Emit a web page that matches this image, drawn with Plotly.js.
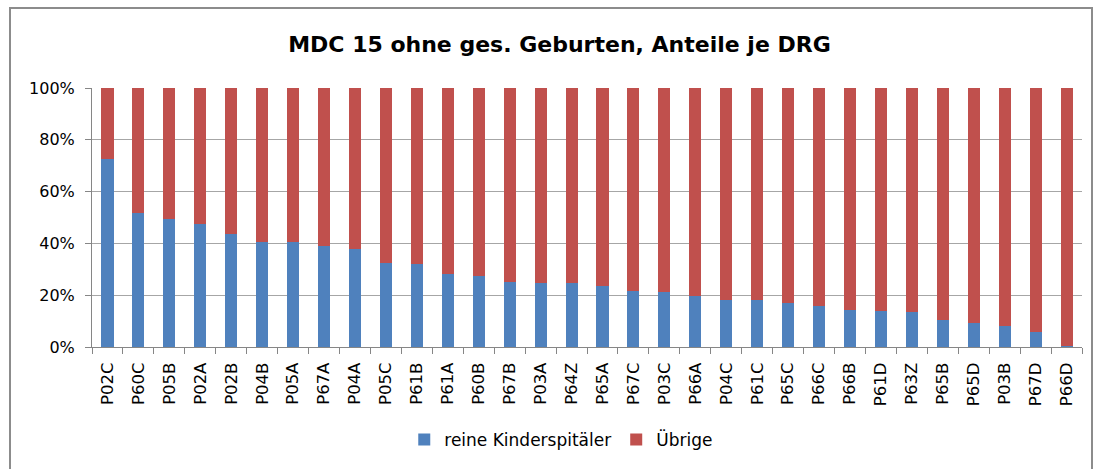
<!DOCTYPE html>
<html>
<head>
<meta charset="utf-8">
<script src="https://cdn.plot.ly/plotly-3.0.1.min.js"></script>
<style>
  html, body { margin: 0; padding: 0; background: #fff; }
  #wrap { position: relative; width: 1097px; height: 469px; overflow: hidden; }
  #chart { position: absolute; left: 0; top: 0; width: 1097px; height: 469px; }
  #frame { position: absolute; left: 9px; top: 7px; width: 1080px; height: 480px; border: 2px solid #8c8c8c; pointer-events: none; }
</style>
</head>
<body>
<div id="wrap">
  <div id="chart"></div>
  <div id="frame"></div>
</div>
<script>
const categories = ["P02C","P60C","P05B","P02A","P02B","P04B","P05A","P67A","P04A","P05C","P61B","P61A","P60B","P67B","P03A","P64Z","P65A","P67C","P03C","P66A","P04C","P61C","P65C","P66C","P66B","P61D","P63Z","P65B","P65D","P03B","P67D","P66D"];
const kinderspitaeler = [72.6,51.8,49.5,47.3,43.5,40.6,40.6,39.0,37.8,32.3,31.9,28.2,27.4,25.1,24.7,24.7,23.5,21.5,21.2,19.7,18.0,18.0,17.0,15.8,14.2,14.0,13.5,10.3,9.1,8.0,5.8,0.3];
const uebrige = kinderspitaeler.map(v => +(100 - v).toFixed(1));
const seriesNames = ["reine Kinderspitäler", "Übrige"];
const yTickVals = [0,20,40,60,80,100];
const yTickText = ["0%","20%","40%","60%","80%","100%"];

const font = "'DejaVu Sans', sans-serif";

const traces = [
  { type: "bar", name: seriesNames[0], x: categories, y: kinderspitaeler, marker: { color: "#4F81BD" }, hoverinfo: "x+y+name" },
  { type: "bar", name: seriesNames[1], x: categories, y: uebrige, marker: { color: "#C0504D" }, hoverinfo: "x+y+name" }
];

const layout = {
  width: 1097, height: 469,
  barmode: "stack",
  bargap: 0.61,
  paper_bgcolor: "#ffffff",
  plot_bgcolor: "#ffffff",
  margin: { l: 92, r: 15, t: 88, b: 121 },
  font: { family: font, color: "#000", size: 16 },
  title: { text: "<b>MDC 15 ohne ges. Geburten, Anteile je DRG</b>", x: 0.51, xref: "container", xanchor: "center", y: 0.905, yref: "container", yanchor: "middle", font: { family: font, size: 22, color: "#000" } },
  xaxis: {
    type: "category",
    tickangle: -90,
    tickfont: { family: font, size: 16.5, color: "#000" },
    showline: true, linecolor: "#868686", linewidth: 1,
    ticks: "outside", tickson: "boundaries", ticklen: 6, tickcolor: "#868686",
    ticklabelstandoff: 8,
    showgrid: false,
    zeroline: false
  },
  yaxis: {
    range: [0, 100],
    tickvals: yTickVals, ticktext: yTickText,
    tickfont: { family: font, size: 16, color: "#000" },
    showline: true, linecolor: "#868686", linewidth: 1,
    ticks: "outside", ticklen: 6, tickcolor: "#868686",
    ticklabelstandoff: 7,
    showgrid: true, gridcolor: "#a6a6a6", gridwidth: 1,
    zeroline: false,
    fixedrange: true
  },
  showlegend: true,
  legend: {
    orientation: "h",
    x: 0.474, xanchor: "center",
    y: -0.354, yanchor: "middle",
    font: { family: font, size: 17, color: "#000" },
    traceorder: "normal",
    itemwidth: 30
  }
};

Plotly.newPlot("chart", traces, layout, { displayModeBar: false });
</script>
</body>
</html>
